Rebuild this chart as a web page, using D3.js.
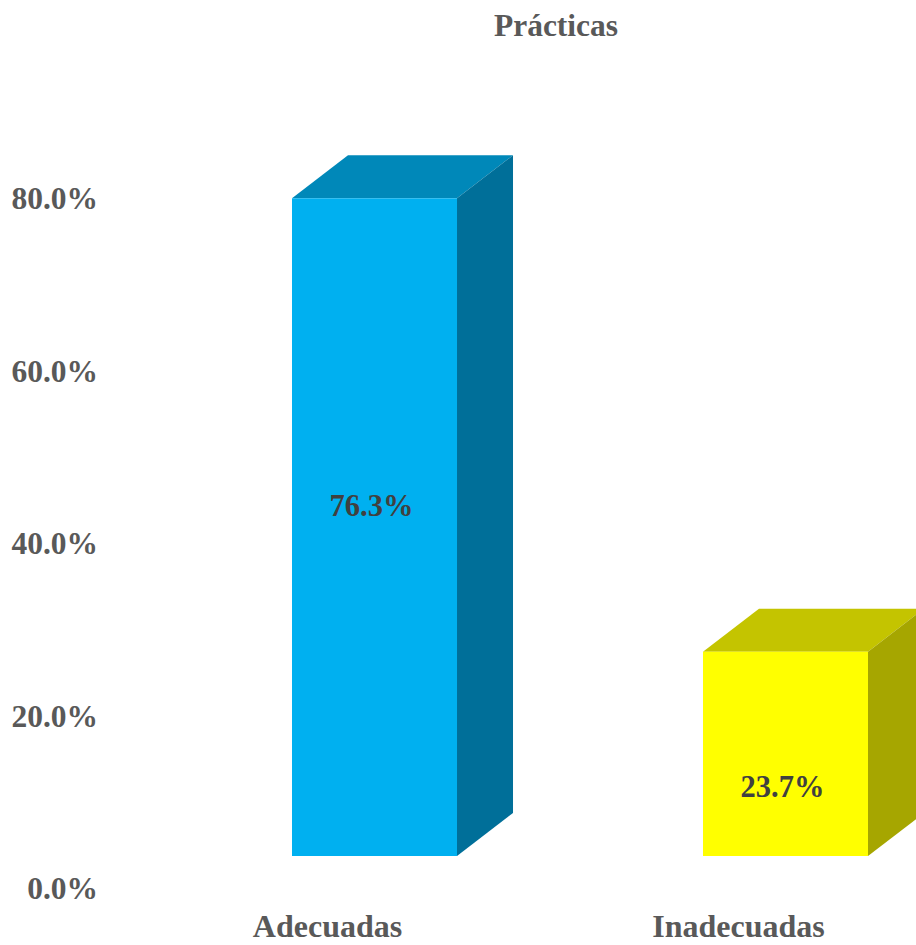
<!DOCTYPE html>
<html>
<head>
<meta charset="utf-8">
<script src="https://cdn.jsdelivr.net/npm/d3@7"></script>
<style>
  html, body { margin: 0; padding: 0; background: #ffffff; }
  svg { display: block; }
</style>
</head>
<body>
<div id="chart"></div>
<script>
// ---- data ----
const title = "Prácticas";
const categories = ["Adecuadas", "Inadecuadas"];
const values = [76.3, 23.7];
const tickValues = [0, 20, 40, 60, 80];
const tickLabels = ["0.0%", "20.0%", "40.0%", "60.0%", "80.0%"];
const frontColors = ["#00B0F0", "#FFFF00"];
const topColors = ["#0088B9", "#C4C400"];
const sideColors = ["#006F99", "#A6A600"];

// ---- layout ----
const W = 916, H = 945;
const depthX = 56, depthY = 43;
const font = "'Liberation Serif', 'Times New Roman', serif";

const svg = d3.select("#chart").append("svg")
  .attr("width", W).attr("height", H);

const y = d3.scaleLinear().domain([0, 80]).range([856, 166.4]);
const x = d3.scaleBand().domain(categories)
  .range([86.5, 1073.5]).paddingInner(0.5985).paddingOuter(0.5);

// title
svg.append("text")
  .attr("x", 556).attr("y", 36)
  .attr("text-anchor", "middle")
  .attr("font-family", font).attr("font-weight", "bold")
  .attr("font-size", 31.5).attr("fill", "#595959")
  .text(title);

// y axis labels
svg.append("g").selectAll("text")
  .data(tickValues)
  .join("text")
  .attr("x", 98)
  .attr("y", d => y(d) + 43)
  .attr("text-anchor", "end")
  .attr("font-family", font).attr("font-weight", "bold")
  .attr("font-size", 31.5).attr("fill", "#595959")
  .text((d, i) => tickLabels[i]);

// bars
const bars = svg.append("g").selectAll("g")
  .data(categories.map((c, i) => ({ c, v: values[i], i })))
  .join("g");

bars.append("polygon") // top face
  .attr("points", d => {
    const x0 = x(d.c), x1 = x0 + x.bandwidth(), yt = y(d.v);
    return [[x0, yt], [x0 + depthX, yt - depthY], [x1 + depthX, yt - depthY], [x1, yt]].join(" ");
  })
  .attr("fill", d => topColors[d.i]);

bars.append("polygon") // side face
  .attr("points", d => {
    const x1 = x(d.c) + x.bandwidth(), yt = y(d.v), yb = y(0);
    return [[x1, yt], [x1 + depthX, yt - depthY], [x1 + depthX, yb - depthY], [x1, yb]].join(" ");
  })
  .attr("fill", d => sideColors[d.i]);

bars.append("rect") // front face
  .attr("x", d => x(d.c))
  .attr("y", d => y(d.v))
  .attr("width", x.bandwidth())
  .attr("height", d => y(0) - y(d.v))
  .attr("fill", d => frontColors[d.i]);

// value labels
const labelShift = [-11, 43];
bars.append("text")
  .attr("x", d => x(d.c) + x.bandwidth() / 2 - 3)
  .attr("y", d => (y(d.v) + y(0)) / 2 + labelShift[d.i])
  .attr("text-anchor", "middle")
  .attr("font-family", font).attr("font-weight", "bold")
  .attr("font-size", 30.5).attr("fill", "#404040")
  .text(d => d.v.toFixed(1) + "%");

// category labels
svg.append("g").selectAll("text")
  .data(categories)
  .join("text")
  .attr("x", d => x(d) + x.bandwidth() / 2 - 47)
  .attr("y", 937)
  .attr("text-anchor", "middle")
  .attr("font-family", font).attr("font-weight", "bold")
  .attr("font-size", 32).attr("fill", "#595959")
  .text(d => d);
</script>
</body>
</html>
